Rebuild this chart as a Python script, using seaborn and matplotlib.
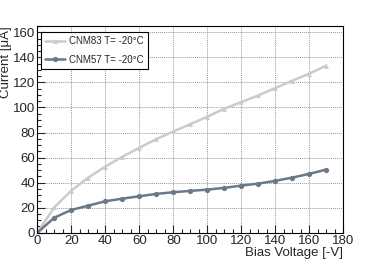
import matplotlib
matplotlib.use("Agg")
import matplotlib.pyplot as plt
import seaborn as sns
import pandas as pd
from matplotlib.ticker import MultipleLocator

voltage = [0, 10, 20, 30, 40, 50, 60, 70, 80, 90, 100, 110, 120, 130, 140, 150, 160, 170]
cnm83 = [0, 20.3, 33.6, 44.0, 52.8, 60.6, 67.8, 74.7, 80.8, 86.7, 92.6, 99.0, 104.3, 109.6, 115.5, 121.4, 127.0, 133.4]
cnm57 = [0, 12.0, 18.2, 21.6, 25.1, 27.2, 29.1, 31.0, 32.3, 33.4, 34.4, 35.8, 37.6, 39.2, 41.4, 44.0, 47.0, 50.4]
labels = ["CNM83 T= -20°C", "CNM57 T= -20°C"]

sns.set_style("ticks")
plt.rcParams['font.family'] = ['Liberation Sans', 'DejaVu Sans']

df83 = pd.DataFrame({"V": voltage, "I": cnm83})
df57 = pd.DataFrame({"V": voltage, "I": cnm57})

fig = plt.figure(figsize=(3.82, 2.59), dpi=100)
ax = fig.add_axes([0.0977, 0.1015, 0.801, 0.798])

sns.lineplot(data=df83, x="V", y="I", ax=ax, color="#cbcbcb", lw=1.8,
             marker="^", markersize=3.5, markeredgewidth=0, label=labels[0])
sns.lineplot(data=df57, x="V", y="I", ax=ax, color="#6a7888", lw=1.8,
             marker="o", markersize=3.8, markeredgewidth=0, label=labels[1])

ax.set_xlim(0, 180)
ax.set_ylim(0, 165)
ax.xaxis.set_major_locator(MultipleLocator(20))
ax.xaxis.set_minor_locator(MultipleLocator(5))
ax.yaxis.set_major_locator(MultipleLocator(20))
ax.yaxis.set_minor_locator(MultipleLocator(5))
ax.tick_params(which='major', direction='in', length=6, width=0.8, labelsize=9.5, pad=1.5)
ax.tick_params(which='minor', direction='in', length=3, width=0.8)
ax.grid(True, which='major', color='#999999', linestyle=(0, (1, 1)), lw=0.7)
for s in ax.spines.values():
    s.set_linewidth(0.8)
    s.set_color('black')

ax.set_xlabel("Bias Voltage [-V]", fontsize=9.5, ha='right', x=1.0, labelpad=0)
ax.set_ylabel("Current [μA]", fontsize=9.5, ha='right', y=1.0, labelpad=1)

leg = ax.legend(loc='upper left', bbox_to_anchor=(0.005, 0.98), fontsize=7,
                frameon=True, fancybox=False, borderpad=0.45, handlelength=2.0,
                handletextpad=0.4, labelspacing=0.85, borderaxespad=0.2)
leg.get_frame().set_edgecolor('black')
leg.get_frame().set_linewidth(0.8)
leg.get_frame().set_alpha(1)

fig.savefig("out.png", dpi=100)
